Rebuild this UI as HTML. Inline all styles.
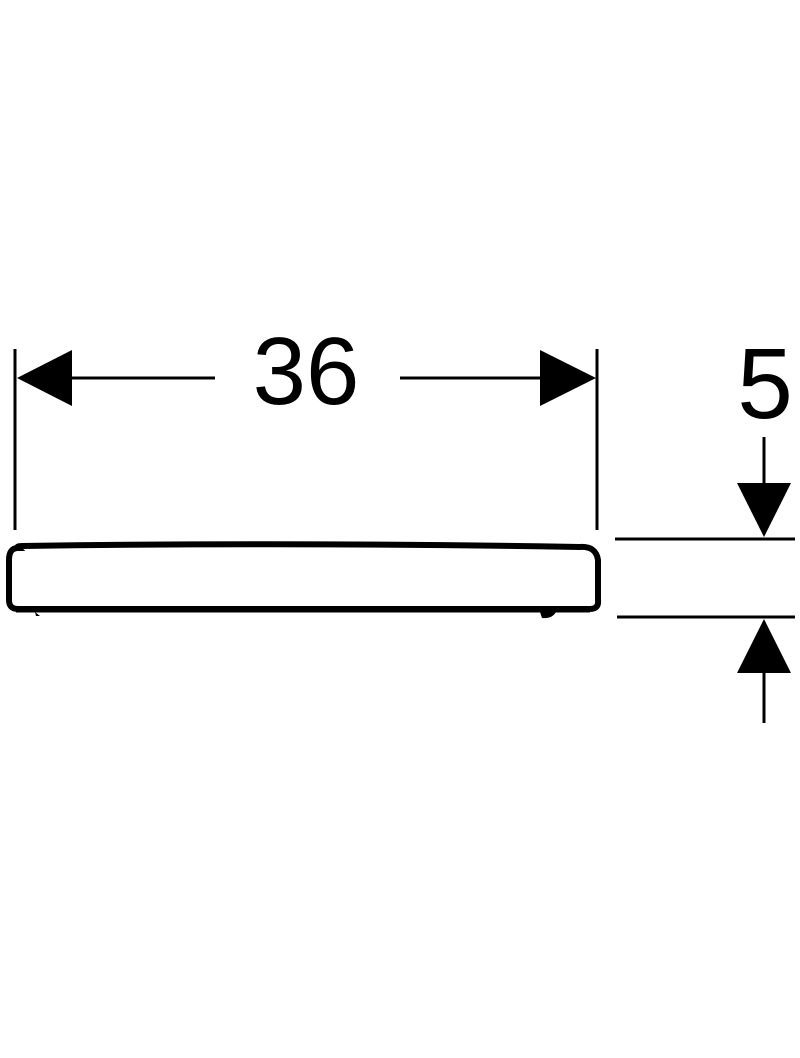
<!DOCTYPE html>
<html><head><style>
html,body{margin:0;padding:0;background:#fff;}
svg{display:block;}
</style></head><body>
<svg width="800" height="1058" viewBox="0 0 800 1058" xmlns="http://www.w3.org/2000/svg">
<g stroke="#000" stroke-width="3" fill="none">
<line x1="15" y1="349" x2="15" y2="530"/>
<line x1="597" y1="349" x2="597" y2="530"/>
<line x1="70" y1="378" x2="215" y2="378"/>
<line x1="400" y1="378" x2="542" y2="378"/>
<line x1="615" y1="539" x2="795" y2="539"/>
<line x1="617" y1="617" x2="795" y2="617"/>
<line x1="764" y1="437" x2="764" y2="485"/>
<line x1="764" y1="670" x2="764" y2="723"/>
<path d="M18 548 Q16 546 22 546 Q300 542 580 547 Q596 546 598 560 L598 600 Q599 609 590 609 L18 609 Q9 609 9 600 L9 560 Q9 548 18 548 Z" stroke-width="6"/>
<line x1="16" y1="610" x2="590" y2="610" stroke-width="5"/>
</g>
<g fill="#000">
<polygon points="17,378 72,350 72,406"/>
<polygon points="596,378 540,350 540,406"/>
<polygon points="764,537 737,483 791,483"/>
<polygon points="764,619 737,673 791,673"/>
<path d="M35 612 L40 616 L36 616 Z"/>
<path d="M540 612 L556 612 Q552 619 542 618 Z"/>
</g>
<text x="306" y="404" font-family="Liberation Sans, sans-serif" font-size="96" text-anchor="middle" fill="#000">36</text>
<text x="765" y="418" font-family="Liberation Sans, sans-serif" font-size="100" text-anchor="middle" fill="#000">5</text>
</svg>
</body></html>
